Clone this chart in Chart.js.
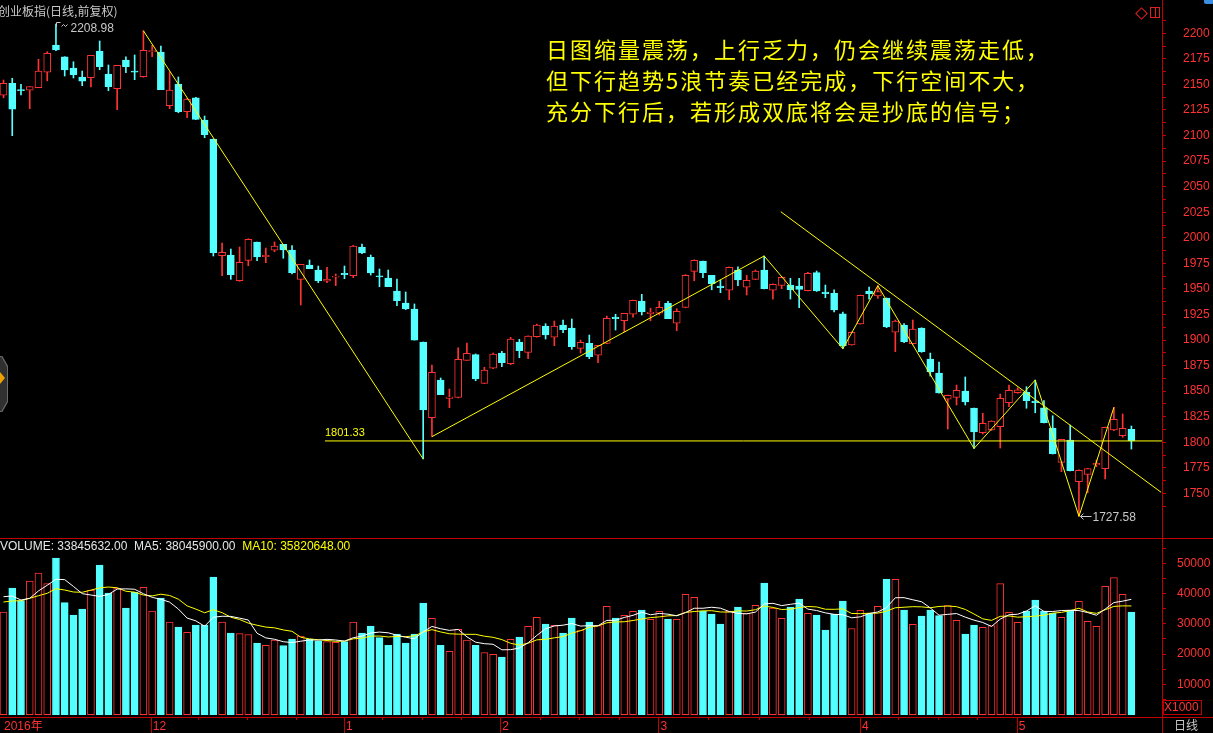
<!DOCTYPE html>
<html>
<head>
<meta charset="utf-8">
<script src="https://cdn.jsdelivr.net/npm/chart.js@4.4.0/dist/chart.umd.min.js"></script>
<style>
html, body { margin: 0; padding: 0; background: #000; width: 1213px; height: 733px; overflow: hidden; position: relative; }
canvas { position: absolute; left: 0; }
#priceCanvas { top: -26px; }
#volCanvas { top: 518px; }
.txt { position: absolute; white-space: nowrap; font-family: "Liberation Sans", "Noto Sans CJK SC", sans-serif; }
.hline { position: absolute; height: 1px; background: #c00000; }
.vline { position: absolute; width: 1px; background: #c00000; }
</style>
</head>
<body>
<canvas id="priceCanvas" width="1213" height="590"></canvas>
<canvas id="volCanvas" width="1213" height="218"></canvas>

<div class="txt" style="left:-2px;top:4px;font-size:12px;line-height:14px;color:#c8c8c8;font-family:'Noto Sans CJK SC',sans-serif;">创业板指(日线,前复权)</div>
<div class="txt" style="left:546px;top:33px;font-size:22px;line-height:31px;letter-spacing:2px;color:#ffff00;font-family:'Noto Sans CJK SC',sans-serif;">日图缩量震荡，上行乏力，仍会继续震荡走低，<br>但下行趋势5浪节奏已经完成，下行空间不大，<br>充分下行后，若形成双底将会是抄底的信号；</div>

<div class="txt" style="left:0;top:539px;font-size:12px;line-height:14px;color:#e6e6e6;">VOLUME: 33845632.00&nbsp; MA5: 38045900.00&nbsp; <span style="color:#ffff00">MA10: 35820648.00</span></div>

<div class="hline" style="left:0;top:538px;width:1213px;"></div>
<div class="hline" style="left:1162px;top:717px;width:51px;"></div>
<div class="vline" style="left:1162px;top:717px;height:16px;"></div>
<div class="txt" style="left:1163px;top:700px;width:37px;height:13px;border:1px solid #c00000;font-size:12px;line-height:13px;color:#ff3333;">X1000</div>
<div class="txt" style="left:1174px;top:718px;font-size:12px;line-height:14px;color:#c8c8c8;font-family:'Noto Sans CJK SC',sans-serif;">日线</div>

<div style="position:absolute;left:1137px;top:9px;width:7px;height:7px;border:1px solid #e02020;transform:rotate(45deg);"></div>
<div style="position:absolute;left:1150px;top:7px;width:8px;height:9px;border:1px solid #e02020;"></div>
<div style="position:absolute;left:1155px;top:7px;width:1px;height:11px;background:#e02020;"></div>
<div style="position:absolute;left:1204px;top:-3px;width:10px;height:7px;border-radius:2px;background:#3c8ee0;"></div>

<div style="position:absolute;left:-6px;top:356px;width:14px;height:56px;background:#6a6a6a;clip-path:polygon(0 0,60% 0,100% 18%,100% 82%,60% 100%,0 100%);"></div>
<div style="position:absolute;left:-6px;top:357px;width:13px;height:54px;background:#303030;clip-path:polygon(0 0,58% 0,100% 18%,100% 82%,58% 100%,0 100%);"></div>
<div style="position:absolute;left:0;top:372px;width:0;height:0;border-top:6px solid transparent;border-bottom:6px solid transparent;border-left:5px solid #f0a000;"></div>

<script>
// daily candles, index 0..129
var openP = [
  2139.4, 2151.1, 2145.0, 2144.3, 2146.8, 2161.9, 2188.6, 2177.1, 2166.1, 2157.3,
  2156.6, 2182.7, 2160.2, 2145.8, 2173.9, 2163.1, 2157.6, 2182.0, 2181.7, 2129.2,
  2150.4, 2123.3, 2137.0, 2115.2, 2096.6, 1982.5, 1983.2, 1958.0, 1978.0, 1995.9,
  1981.5, 1987.8, 1993.6, 1988.1, 1959.4, 1973.4, 1968.5, 1957.5, 1961.4, 1965.3,
  1962.9, 1991.0, 1980.9, 1962.9, 1960.7, 1948.0, 1936.2, 1930.4, 1898.1, 1824.1,
  1860.9, 1843.0, 1844.0, 1880.2, 1885.7, 1857.7, 1872.4, 1887.3, 1876.9, 1898.1,
  1888.0, 1903.3, 1913.7, 1902.7, 1914.7, 1911.8, 1891.9, 1896.8, 1885.1, 1896.8,
  1922.5, 1918.9, 1925.2, 1938.2, 1925.8, 1926.2, 1935.9, 1916.4, 1932.0, 1967.2,
  1977.3, 1963.3, 1952.9, 1948.7, 1968.5, 1951.6, 1959.4, 1968.5, 1948.7, 1953.5,
  1953.8, 1952.9, 1948.3, 1965.9, 1947.0, 1945.7, 1925.6, 1895.2, 1915.7, 1948.0,
  1943.1, 1941.1, 1907.6, 1914.7, 1896.4, 1911.8, 1881.5, 1867.8, 1842.1, 1844.0,
  1850.2, 1833.5, 1809.4, 1812.0, 1815.3, 1838.7, 1848.5, 1848.9, 1840.4, 1833.8,
  1814.0, 1780.4, 1802.2, 1761.5, 1768.7, 1777.8, 1774.2, 1812.0, 1806.5, 1812.7
];
var highP = [
  2154.3, 2156.0, 2150.1, 2147.8, 2174.6, 2182.0, 2208.98, 2177.1, 2172.2, 2163.1,
  2178.5, 2192.5, 2169.0, 2168.7, 2177.1, 2178.8, 2202.5, 2188.3, 2187.6, 2162.4,
  2157.3, 2136.4, 2137.5, 2119.1, 2096.6, 1994.9, 1989.0, 1991.0, 1999.1, 1995.9,
  1990.0, 1995.9, 1993.6, 1992.3, 1974.1, 1978.3, 1972.4, 1971.2, 1964.6, 1972.4,
  1992.7, 1993.9, 1983.2, 1969.5, 1968.5, 1959.7, 1947.0, 1935.3, 1898.1, 1875.6,
  1862.9, 1852.1, 1892.5, 1897.1, 1886.4, 1873.4, 1887.3, 1889.0, 1902.7, 1900.7,
  1904.2, 1915.7, 1916.0, 1918.6, 1919.6, 1920.6, 1900.0, 1904.9, 1894.9, 1923.5,
  1925.2, 1926.2, 1939.0, 1944.7, 1931.1, 1937.9, 1937.9, 1930.7, 1964.0, 1978.5,
  1977.3, 1963.3, 1958.7, 1971.5, 1971.5, 1963.3, 1968.5, 1982.2, 1955.0, 1962.0,
  1960.4, 1960.4, 1966.3, 1967.5, 1953.8, 1949.0, 1927.4, 1908.0, 1944.0, 1951.9,
  1953.2, 1941.1, 1919.6, 1916.0, 1919.6, 1912.0, 1887.3, 1878.5, 1846.2, 1856.0,
  1863.9, 1833.5, 1828.4, 1821.0, 1847.2, 1856.0, 1853.4, 1854.4, 1860.9, 1840.7,
  1826.0, 1803.0, 1816.9, 1773.0, 1774.5, 1782.7, 1815.0, 1834.2, 1827.7, 1815.9
];
var lowP = [
  2137.0, 2099.9, 2139.7, 2126.3, 2146.8, 2153.4, 2183.0, 2158.2, 2156.3, 2148.8,
  2147.5, 2164.4, 2143.9, 2125.3, 2161.5, 2154.6, 2157.0, 2177.1, 2144.8, 2126.3,
  2122.3, 2117.5, 2115.5, 2097.9, 1982.2, 1962.9, 1959.4, 1957.5, 1972.7, 1977.6,
  1975.6, 1986.4, 1980.0, 1964.6, 1934.3, 1969.8, 1956.1, 1956.1, 1953.2, 1960.0,
  1961.0, 1984.5, 1963.6, 1952.2, 1952.2, 1933.6, 1929.7, 1900.0, 1783.7, 1805.5,
  1846.6, 1833.8, 1843.5, 1880.0, 1860.2, 1857.5, 1872.0, 1873.9, 1875.9, 1882.7,
  1881.8, 1902.7, 1901.0, 1894.5, 1907.2, 1891.0, 1887.3, 1881.8, 1877.8, 1896.5,
  1909.8, 1908.2, 1922.3, 1924.5, 1918.9, 1924.5, 1920.9, 1909.1, 1931.5, 1958.0,
  1961.0, 1949.2, 1946.3, 1939.5, 1953.2, 1944.1, 1959.0, 1950.0, 1940.1, 1950.2,
  1940.1, 1931.6, 1948.0, 1947.5, 1941.4, 1927.4, 1891.5, 1895.0, 1915.5, 1940.1,
  1940.8, 1912.1, 1888.6, 1897.4, 1896.0, 1888.0, 1864.8, 1848.0, 1813.0, 1836.5,
  1836.5, 1794.0, 1808.1, 1811.5, 1794.4, 1834.8, 1847.9, 1833.3, 1828.9, 1819.0,
  1788.5, 1771.2, 1772.0, 1727.58, 1750.7, 1776.1, 1764.1, 1811.5, 1804.9, 1793.4
];
var closeP = [
  2151.1, 2125.7, 2144.0, 2147.8, 2163.1, 2180.4, 2183.7, 2164.1, 2159.5, 2153.3,
  2178.5, 2167.3, 2147.8, 2168.7, 2167.3, 2161.9, 2183.4, 2183.0, 2144.8, 2144.5,
  2123.3, 2135.7, 2115.9, 2100.8, 1985.4, 1985.8, 1963.9, 1976.0, 1998.5, 1981.2,
  1982.9, 1992.0, 1988.1, 1965.9, 1974.1, 1969.8, 1958.0, 1959.7, 1962.6, 1963.9,
  1992.0, 1985.1, 1965.6, 1961.7, 1952.2, 1938.5, 1930.4, 1900.0, 1831.6, 1868.5,
  1846.6, 1844.3, 1881.2, 1887.0, 1861.9, 1870.7, 1886.4, 1877.8, 1901.0, 1889.6,
  1904.0, 1914.7, 1904.9, 1913.7, 1910.1, 1893.5, 1897.8, 1883.7, 1894.9, 1921.3,
  1920.9, 1926.2, 1938.9, 1927.7, 1927.4, 1932.0, 1920.9, 1928.1, 1963.3, 1978.0,
  1965.9, 1955.1, 1951.2, 1971.2, 1958.7, 1958.4, 1967.5, 1950.2, 1954.5, 1961.4,
  1949.2, 1949.6, 1965.3, 1948.0, 1945.3, 1929.4, 1894.5, 1907.6, 1943.8, 1945.3,
  1947.3, 1912.8, 1918.6, 1898.4, 1910.8, 1888.6, 1869.0, 1848.2, 1846.0, 1850.9,
  1839.4, 1810.1, 1818.6, 1820.8, 1843.0, 1850.9, 1851.2, 1840.7, 1838.7, 1819.2,
  1788.9, 1802.9, 1772.2, 1772.6, 1774.2, 1779.5, 1814.7, 1822.5, 1813.7, 1801.33
];

// volume in thousands (axis is X1000)
var volumeK = [
  33902, 41836, 37638, 44151, 46796, 43308, 51755, 36977, 32910, 34894,
  41076, 49441, 40184, 41836, 35225, 40415, 42068, 34233, 38531, 30596,
  28943, 27191, 29604, 29604, 45473, 30596, 26960, 26778, 26448, 23654,
  22893, 24646, 22761, 24976, 25968, 24976, 24315, 24100, 23885, 24100,
  30596, 26960, 29274, 25406, 22910, 26629, 23654, 26629, 36877, 31820,
  22910, 20910, 28183, 24646, 22910, 20497, 19918, 19025, 24877, 25637,
  29175, 32150, 29935, 29505, 26960, 31919, 27951, 30596, 29373, 35787,
  31919, 32811, 34134, 34563, 31489, 34134, 31588, 31489, 39754, 38762,
  34134, 33241, 29935, 34233, 35556, 33473, 36117, 43490, 35225, 31820,
  35556, 38200, 33473, 32910, 27951, 33142, 37539, 28432, 34464, 33340,
  35787, 44812, 44713, 34563, 29836, 32580, 34563, 32679, 35985, 31158,
  26629, 29604, 28844, 29373, 43308, 33803, 30497, 34233, 37869, 34134,
  33572, 32150, 34563, 37440, 30827, 29175, 42399, 45290, 39754, 33846
];
// first MA values (their windows start before the first bar)
var ma5Seed = [38961, 39192, 37869, 38432];
var ma10Seed = [37208, 37539, 37638, 38432, 39291, 40085, 41605, 41176, 40514];

// drawn lines on the price panel: [bar index, price]
var trendA = [[16, 2202.5], [48, 1783.7]];
var trendB = [[49, 1805.5], [87, 1982.2], [96, 1891.5], [100, 1953.2], [111, 1794.0], [118, 1860.9], [123, 1727.58], [127, 1834.2]];
var trendC = [[88.9, 2025.5], [132.4, 1751.1]];
var supportLine = [[36.77, 1801.33], [132.5, 1801.33]];

var priceLabels = [1750, 1775, 1800, 1825, 1850, 1875, 1900, 1925, 1950, 1975, 2000, 2025, 2050, 2075, 2100, 2125, 2150, 2175, 2200];
var volLabels = [10000, 20000, 30000, 40000, 50000];
var monthTickPos = [-0.17, 16.85, 38.95, 56.82, 74.9, 97.96, 115.89];
var monthTickLabels = ['2016年', '12', '1', '2', '3', '4', '5'];
var weekTickPos = [22.28, 27.89, 33.42, 43.29, 47.9, 52.36, 61.4, 65.86, 70.43, 80.61, 86.45, 92.17, 102.35, 106.92, 111.38];

var UP = '#ff3333', DOWN = '#54ffff', BG = '#000000';
var AXIS = '#c00000', AXIS_TXT = '#ff3333', YEL = '#ffff00', GREY = '#c8c8c8';
var NUMFONT = "'Liberation Sans', Arial, sans-serif";

var isUp = closeP.map(function (c, i) { return c >= openP[i]; });
var priceTicks = [];
priceLabels.forEach(function (v) { priceTicks.push(v - 12.5, v); });
priceTicks.push(2212.5);
var volTicks = [];
volLabels.forEach(function (v) { volTicks.push(v - 5000, v); });
volTicks.push(55000);

function movingAvg(vals, n, seed) {
  return vals.map(function (v, i) {
    if (i < seed.length) return seed[i];
    var s = 0;
    for (var k = i - n + 1; k <= i; k++) s += vals[k];
    return s / n;
  });
}
var ma5 = movingAvg(volumeK, 5, ma5Seed);
var ma10 = movingAvg(volumeK, 10, ma10Seed);

function pts(arr) { return arr.map(function (p) { return { x: p[0], y: p[1] }; }); }
function trendSet(arr) {
  return { type: 'line', data: pts(arr), borderColor: YEL, borderWidth: 1, pointRadius: 0, order: 0 };
}

var xCfg = { type: 'linear', min: -0.4, max: 132.5, offset: false, bounds: 'data', display: false };

var priceDecor = {
  id: 'priceDecor',
  afterDatasetsDraw: function (chart) {
    var ctx = chart.ctx, x = chart.scales.x, y = chart.scales.y;
    ctx.save();
    // support level label
    ctx.fillStyle = YEL;
    ctx.font = '11px ' + NUMFONT;
    ctx.textAlign = 'left';
    ctx.textBaseline = 'alphabetic';
    ctx.fillText(supportLine[0][1].toFixed(2), x.getPixelForValue(supportLine[0][0]), y.getPixelForValue(supportLine[0][1]) - 5);

    ctx.strokeStyle = GREY;
    ctx.fillStyle = GREY;
    ctx.lineWidth = 1;
    ctx.font = '12px ' + NUMFONT;
    ctx.textBaseline = 'middle';
    // highest point marker
    var hx = Math.round(x.getPixelForValue(6)) + 0.5, hy = Math.round(y.getPixelForValue(2208.98)) + 0.5;
    ctx.beginPath();
    ctx.moveTo(hx, hy + 2); ctx.lineTo(hx, hy - 2); ctx.lineTo(hx + 4, hy - 2);
    ctx.moveTo(hx + 5, hy + 2); ctx.lineTo(hx + 7, hy); ctx.lineTo(hx + 9, hy + 2); ctx.lineTo(hx + 11, hy);
    ctx.stroke();
    ctx.fillText('2208.98', hx + 14, hy + 4);
    // lowest point marker
    var lx = Math.round(x.getPixelForValue(123)) + 0.5, ly = Math.round(y.getPixelForValue(1727.58)) + 0.5;
    ctx.beginPath();
    ctx.moveTo(lx + 1, ly); ctx.lineTo(lx + 12, ly);
    ctx.moveTo(lx + 4, ly - 3); ctx.lineTo(lx + 1, ly); ctx.lineTo(lx + 4, ly + 3);
    ctx.stroke();
    ctx.fillText('1727.58', lx + 13, ly + 1);
    ctx.restore();
  }
};

new Chart(document.getElementById('priceCanvas'), {
  type: 'bar',
  data: {
    datasets: [
      trendSet(trendA),
      trendSet(trendB),
      trendSet(trendC),
      trendSet(supportLine),
      {
        type: 'bar',
        data: openP.map(function (o, i) { return { x: i, y: [o, closeP[i]] }; }),
        backgroundColor: isUp.map(function (u) { return u ? BG : DOWN; }),
        borderColor: isUp.map(function (u) { return u ? UP : DOWN; }),
        borderWidth: 1,
        borderSkipped: false,
        grouped: false,
        barPercentage: 1,
        categoryPercentage: 1,
        maxBarThickness: 7,
        minBarLength: 1,
        order: 1
      },
      {
        type: 'bar',
        data: lowP.map(function (l, i) { return { x: i, y: [l, highP[i]] }; }),
        backgroundColor: isUp.map(function (u) { return u ? UP : DOWN; }),
        borderWidth: 0,
        grouped: false,
        barPercentage: 1,
        categoryPercentage: 1,
        maxBarThickness: 1,
        order: 2
      }
    ]
  },
  options: {
    responsive: false,
    animation: false,
    devicePixelRatio: 1,
    layout: { padding: { top: 26, bottom: 26, left: 0, right: 0 } },
    plugins: { legend: { display: false }, tooltip: { enabled: false } },
    scales: {
      x: xCfg,
      y: {
        type: 'linear',
        position: 'right',
        min: 1706.41,
        max: 2232.57,
        beginAtZero: false,
        afterBuildTicks: function (s) { s.ticks = priceTicks.map(function (v) { return { value: v }; }); },
        afterFit: function (s) { s.width = 51; },
        ticks: {
          autoSkip: false,
          color: AXIS_TXT,
          padding: 17,
          font: { family: NUMFONT, size: 12 },
          callback: function (v) { return priceLabels.indexOf(v) >= 0 ? String(v) : ''; }
        },
        grid: { display: true, drawOnChartArea: false, drawTicks: true, tickLength: 4, color: AXIS, tickColor: AXIS },
        border: { display: true, color: AXIS, width: 1 }
      }
    }
  },
  plugins: [priceDecor]
});

var axisTicks = {
  id: 'axisTicks',
  afterDraw: function (chart) {
    var ctx = chart.ctx, x = chart.scales.x, b = chart.chartArea.bottom;
    ctx.save();
    ctx.fillStyle = AXIS;
    monthTickPos.forEach(function (p, i) {
      if (i === 0) return;
      ctx.fillRect(Math.round(x.getPixelForValue(p)), b, 1, 16);
    });
    weekTickPos.forEach(function (p) {
      ctx.fillRect(Math.round(x.getPixelForValue(p)), b, 1, 3);
    });
    ctx.restore();
  }
};

new Chart(document.getElementById('volCanvas'), {
  type: 'bar',
  data: {
    datasets: [
      {
        type: 'line',
        data: ma5.map(function (v, i) { return { x: i, y: v }; }),
        borderColor: '#ffffff', borderWidth: 1, pointRadius: 0, order: 0
      },
      {
        type: 'line',
        data: ma10.map(function (v, i) { return { x: i, y: v }; }),
        borderColor: YEL, borderWidth: 1, pointRadius: 0, order: 0
      },
      {
        type: 'bar',
        data: volumeK.map(function (v, i) { return { x: i, y: v }; }),
        backgroundColor: isUp.map(function (u) { return u ? BG : DOWN; }),
        borderColor: isUp.map(function (u) { return u ? UP : DOWN; }),
        borderWidth: 1,
        borderSkipped: false,
        grouped: false,
        barPercentage: 1,
        categoryPercentage: 1,
        maxBarThickness: 7,
        order: 1
      }
    ]
  },
  options: {
    responsive: false,
    animation: false,
    devicePixelRatio: 1,
    layout: { padding: { top: 20, bottom: 3, left: 0, right: 0 } },
    plugins: { legend: { display: false }, tooltip: { enabled: false } },
    scales: {
      x: {
        type: 'linear', min: -0.4, max: 132.5, offset: false, bounds: 'data', position: 'bottom',
        afterBuildTicks: function (s) { s.ticks = monthTickPos.map(function (v) { return { value: v }; }); },
        afterFit: function (s) { s.height = 16; },
        ticks: {
          autoSkip: false, maxRotation: 0, minRotation: 0, align: 'start', padding: 2, labelOffset: 2,
          color: AXIS_TXT,
          font: { family: "'Liberation Sans', 'Noto Sans CJK SC', sans-serif", size: 12 },
          callback: function (v, i) { return monthTickLabels[i]; }
        },
        grid: { display: false, drawTicks: false },
        border: { display: true, color: AXIS, width: 1 }
      },
      y: {
        type: 'linear',
        position: 'right',
        min: -811,
        max: 58367,
        beginAtZero: false,
        afterBuildTicks: function (s) { s.ticks = volTicks.map(function (v) { return { value: v }; }); },
        afterFit: function (s) { s.width = 51; },
        ticks: {
          autoSkip: false,
          color: AXIS_TXT,
          padding: 11,
          font: { family: NUMFONT, size: 12 },
          callback: function (v) { return volLabels.indexOf(v) >= 0 ? String(v) : ''; }
        },
        grid: { display: true, drawOnChartArea: false, drawTicks: true, tickLength: 4, color: AXIS, tickColor: AXIS },
        border: { display: true, color: AXIS, width: 1 }
      }
    }
  },
  plugins: [axisTicks]
});
</script>
</body>
</html>
